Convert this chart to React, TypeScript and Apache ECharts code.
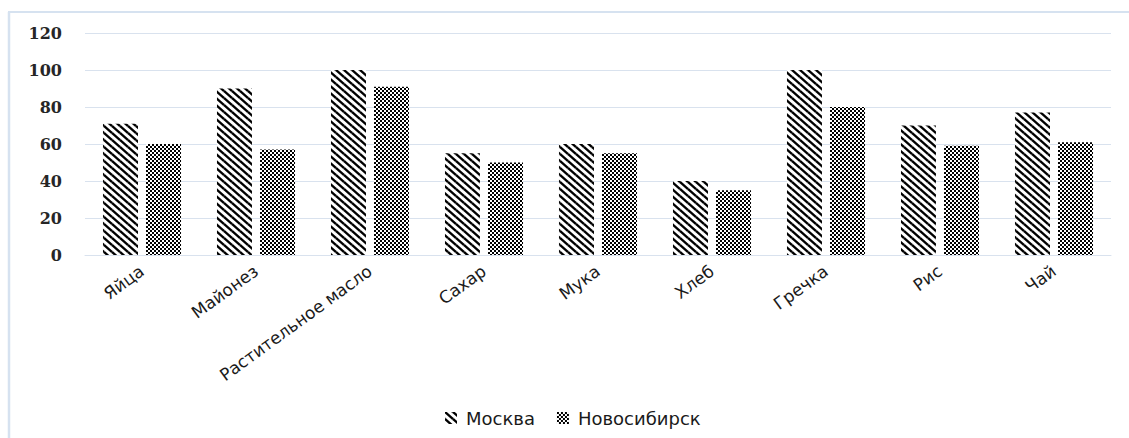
import React, { useEffect, useRef } from "react";
import * as echarts from "echarts";

const categories = ["Яйца", "Майонез", "Растительное масло", "Сахар", "Мука", "Хлеб", "Гречка", "Рис", "Чай"];
const moscow = [71, 90, 100, 55, 60, 40, 100, 70, 77];
const novosibirsk = [60, 57, 91, 50, 55, 35, 80, 59, 61];
const seriesNames = ["Москва", "Новосибирск"];
const yTicks = { min: 0, max: 120, interval: 20 };

function stripePattern() {
  const W = 8, H = 7;
  const c = document.createElement("canvas");
  c.width = W; c.height = H;
  const ctx = c.getContext("2d")!;
  ctx.fillStyle = "#ffffff";
  ctx.fillRect(0, 0, W, H);
  ctx.strokeStyle = "#000000";
  ctx.lineWidth = 2.4;
  for (const k of [-1, 0, 1]) {
    for (const j of [-1, 0, 1]) {
      ctx.beginPath();
      ctx.moveTo(k * W, j * H);
      ctx.lineTo(k * W + W, j * H + H);
      ctx.stroke();
    }
  }
  return { image: c.toDataURL(), repeat: "repeat", imageWidth: W, imageHeight: H };
}

function checkerPattern() {
  const S = 2;
  const c = document.createElement("canvas");
  c.width = 2 * S; c.height = 2 * S;
  const ctx = c.getContext("2d")!;
  ctx.fillStyle = "#ffffff";
  ctx.fillRect(0, 0, 2 * S, 2 * S);
  ctx.fillStyle = "#000000";
  ctx.fillRect(0, 0, S, S);
  ctx.fillRect(S, S, S, S);
  return { image: c.toDataURL(), repeat: "repeat", imageWidth: 2 * S, imageHeight: 2 * S };
}

export default function App() {
  const ref = useRef<HTMLDivElement>(null);
  useEffect(() => {
    if (!ref.current) return;
    const chart = echarts.init(ref.current, undefined, { renderer: "svg" });
    const stripes = stripePattern();
    const checker = checkerPattern();
    chart.setOption({
      animation: false,
      backgroundColor: "#ffffff",
      grid: { left: 85, right: 18, top: 33, bottom: 183, containLabel: false },
      legend: {
        data: seriesNames,
        top: 404,
        left: 440,
        itemWidth: 12,
        itemHeight: 12,
        itemGap: 22,
        icon: "rect",
        textStyle: { fontFamily: "DejaVu Sans", fontSize: 18, color: "#1a1a1a", padding: [0, 0, 0, 4] },
      },
      xAxis: {
        type: "category",
        data: categories,
        axisLine: { show: true, lineStyle: { color: "#d9e2ee", width: 1 } },
        axisTick: { show: false },
        axisLabel: {
          rotate: 36,
          margin: 14,
          interval: 0,
          fontFamily: "DejaVu Sans",
          fontSize: 17,
          color: "#1a1a1a",
        },
      },
      yAxis: {
        type: "value",
        min: yTicks.min,
        max: yTicks.max,
        interval: yTicks.interval,
        axisLine: { show: false },
        axisTick: { show: false },
        splitLine: { lineStyle: { color: "#d9e2ee", width: 1 } },
        axisLabel: {
          margin: 23,
          fontFamily: "DejaVu Serif",
          fontWeight: "bold",
          fontSize: 16,
          color: "#262626",
        },
      },
      series: [
        {
          name: seriesNames[0],
          type: "bar",
          data: moscow,
          barWidth: 35,
          barGap: "23%",
          itemStyle: { color: stripes },
        },
        {
          name: seriesNames[1],
          type: "bar",
          data: novosibirsk,
          barWidth: 35,
          itemStyle: { color: checker },
        },
      ],
      graphic: [
        {
          type: "line",
          shape: { x1: 8, y1: 12, x2: 1129, y2: 12 },
          style: { stroke: "#d6e2f0", lineWidth: 2 },
          silent: true,
        },
        {
          type: "line",
          shape: { x1: 9, y1: 12, x2: 9, y2: 438 },
          style: { stroke: "#d6e2f0", lineWidth: 2.5 },
          silent: true,
        },
      ],
    });
    return () => chart.dispose();
  }, []);
  return (
    <div
      ref={ref}
      style={{ position: "absolute", left: 0, top: 0, width: 1129, height: 438 }}
    />
  );
}
